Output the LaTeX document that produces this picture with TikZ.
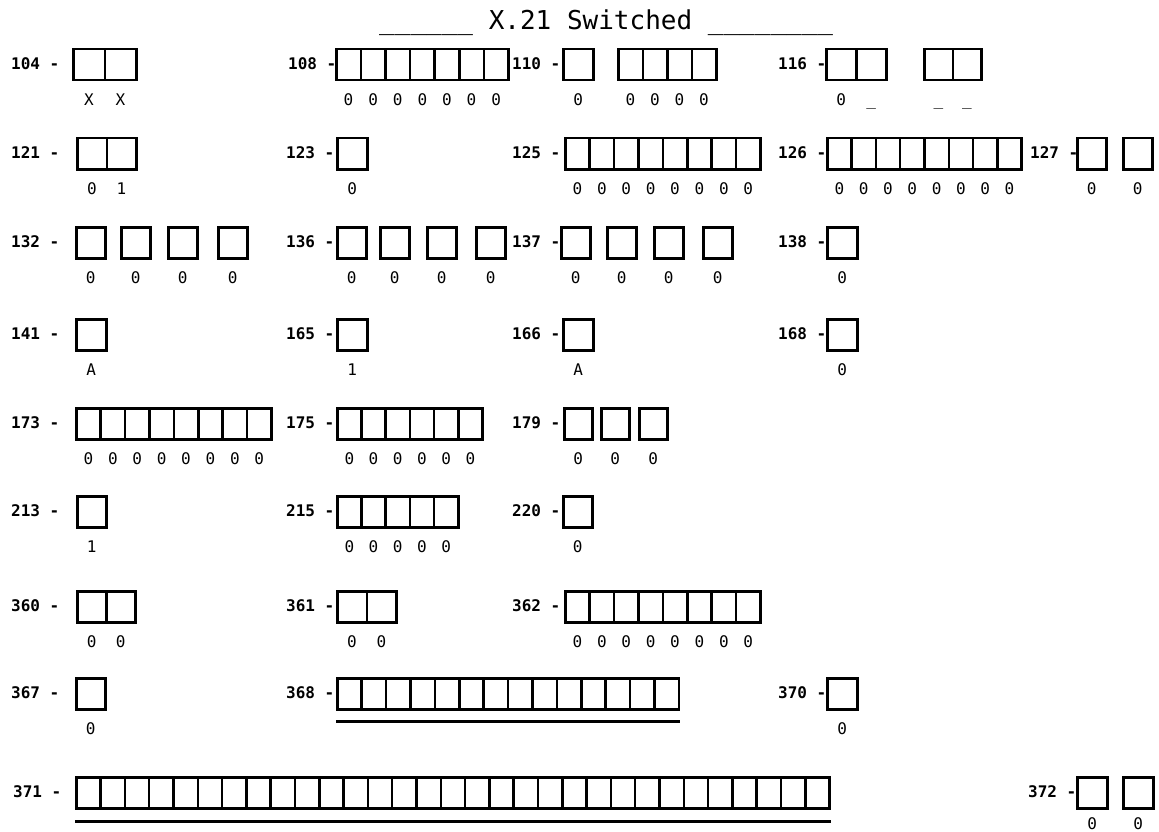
\documentclass[tikz,border=0pt]{standalone}
\usepackage{fontspec}
\newfontfamily\formfont{DejaVu Sans Mono}
\usepackage{tikz}
\usetikzlibrary{positioning, calc}

% one row of joined cells: name, left x, top y, number of cells, cell width
\newcommand{\fieldcells}[5]{%
  \foreach \k in {1,...,#4}{%
    \node[cellbox, minimum width=#5pt] (#1-\k) at ({#2+(\k-1)*#5},#3) {};
  }%
}
% the values printed under the cells of a field (optional: drop below the box)
\newcommand{\fieldvals}[3][24]{%
  \foreach \v [count=\k] in {#3}{%
    \node[val] (#2-v\k) at ([yshift=-#1pt]#2-\k.south) {\v};
  }%
}

\begin{document}
\begin{tikzpicture}[
  x=1pt, y=-1pt,
  cellbox/.style={draw, line width=2.5pt, inner sep=0pt,
    minimum height=31pt, anchor=north west},
  val/.style={font=\formfont\fontsize{16}{16}\selectfont,
    inner sep=0pt, anchor=base},
  fieldno/.style={font=\formfont\bfseries\fontsize{16}{16}\selectfont,
    inner sep=0pt, anchor=west},
  ttl/.style={font=\formfont\fontsize{26}{26}\selectfont,
    inner sep=0pt, anchor=base west},
  uline/.style={line width=2.5pt}
]
  \useasboundingbox (0,0) rectangle (1159,832);

  \node[ttl] (title) at (379,30) {\_\_\_\_\_\_ X.21 Switched \_\_\_\_\_\_\_\_};

  % row 1
  \node[fieldno] (l104) at (11,63.5) {104 -};
  \fieldcells{f104}{72}{48}{2}{31.5}  \fieldvals{f104}{X,X}
  \node[fieldno] (l108) at (288,63.5) {108 -};
  \fieldcells{f108}{335}{48}{7}{24.6} \fieldvals{f108}{0,0,0,0,0,0,0}
  \node[fieldno] (l110) at (512,63.5) {110 -};
  \fieldcells{f110a}{562}{48}{1}{30}  \fieldvals{f110a}{0}
  \fieldcells{f110b}{617}{48}{4}{24.5} \fieldvals{f110b}{0,0,0,0}
  \node[fieldno] (l116) at (778,63.5) {116 -};
  \fieldcells{f116a}{825}{48}{2}{30}  \fieldvals{f116a}{0,\_}
  \fieldcells{f116b}{923}{48}{2}{28.5} \fieldvals{f116b}{\_,\_}

  % row 2
  \node[fieldno] (l121) at (11,152.5) {121 -};
  \fieldcells{f121}{76}{137}{2}{29.5} \fieldvals{f121}{0,1}
  \node[fieldno] (l123) at (286,152.5) {123 -};
  \fieldcells{f123}{336}{137}{1}{30} \fieldvals{f123}{0}
  \node[fieldno] (l125) at (512,152.5) {125 -};
  \fieldcells{f125}{564}{137}{8}{24.4} \fieldvals{f125}{0,0,0,0,0,0,0,0}
  \node[fieldno] (l126) at (778,152.5) {126 -};
  \fieldcells{f126}{826}{137}{8}{24.3} \fieldvals{f126}{0,0,0,0,0,0,0,0}
  \node[fieldno] (l127) at (1030,152.5) {127 -};
  \fieldcells{f127a}{1076}{137}{1}{29} \fieldvals{f127a}{0}
  \fieldcells{f127b}{1122}{137}{1}{29} \fieldvals{f127b}{0}

  % row 3
  \node[fieldno] (l132) at (11,241.5) {132 -};
  \foreach \bx [count=\j] in {75,120,167,217}{
    \fieldcells{f132\j}{\bx}{226}{1}{29} \fieldvals{f132\j}{0}
  }
  \node[fieldno] (l136) at (286,241.5) {136 -};
  \foreach \bx [count=\j] in {336,379,426,475}{
    \fieldcells{f136\j}{\bx}{226}{1}{29} \fieldvals{f136\j}{0}
  }
  \node[fieldno] (l137) at (512,241.5) {137 -};
  \foreach \bx [count=\j] in {560,606,653,702}{
    \fieldcells{f137\j}{\bx}{226}{1}{29} \fieldvals{f137\j}{0}
  }
  \node[fieldno] (l138) at (778,241.5) {138 -};
  \fieldcells{f138}{826}{226}{1}{30} \fieldvals{f138}{0}

  % row 4
  \node[fieldno] (l141) at (11,333.5) {141 -};
  \fieldcells{f141}{75}{318}{1}{30} \fieldvals{f141}{A}
  \node[fieldno] (l165) at (286,333.5) {165 -};
  \fieldcells{f165}{336}{318}{1}{30} \fieldvals{f165}{1}
  \node[fieldno] (l166) at (512,333.5) {166 -};
  \fieldcells{f166}{562}{318}{1}{30} \fieldvals{f166}{A}
  \node[fieldno] (l168) at (778,333.5) {168 -};
  \fieldcells{f168}{826}{318}{1}{30} \fieldvals{f168}{0}

  % row 5
  \node[fieldno] (l173) at (11,422.5) {173 -};
  \fieldcells{f173}{75}{407}{8}{24.4} \fieldvals{f173}{0,0,0,0,0,0,0,0}
  \node[fieldno] (l175) at (286,422.5) {175 -};
  \fieldcells{f175}{336}{407}{6}{24.2} \fieldvals{f175}{0,0,0,0,0,0}
  \node[fieldno] (l179) at (512,422.5) {179 -};
  \foreach \bx [count=\j] in {563,600,638}{
    \fieldcells{f179\j}{\bx}{407}{1}{28} \fieldvals{f179\j}{0}
  }

  % row 6
  \node[fieldno] (l213) at (11,510.5) {213 -};
  \fieldcells{f213}{76}{495}{1}{29} \fieldvals{f213}{1}
  \node[fieldno] (l215) at (286,510.5) {215 -};
  \fieldcells{f215}{336}{495}{5}{24.2} \fieldvals{f215}{0,0,0,0,0}
  \node[fieldno] (l220) at (512,510.5) {220 -};
  \fieldcells{f220}{562}{495}{1}{29} \fieldvals{f220}{0}

  % row 7
  \node[fieldno] (l360) at (11,605.5) {360 -};
  \fieldcells{f360}{76}{590}{2}{29} \fieldvals{f360}{0,0}
  \node[fieldno] (l361) at (286,605.5) {361 -};
  \fieldcells{f361}{336}{590}{2}{29.5} \fieldvals{f361}{0,0}
  \node[fieldno] (l362) at (512,605.5) {362 -};
  \fieldcells{f362}{564}{590}{8}{24.4} \fieldvals{f362}{0,0,0,0,0,0,0,0}

  % row 8
  \node[fieldno] (l367) at (11,692.5) {367 -};
  \fieldcells{f367}{75}{677}{1}{29} \fieldvals{f367}{0}
  \node[fieldno] (l368) at (286,692.5) {368 -};
  \fieldcells{f368}{336}{677}{14}{24.4}
  \draw[uline] ([yshift=-11pt]f368-1.south west) -- ([yshift=-11pt]f368-14.south east);
  \node[fieldno] (l370) at (778,692.5) {370 -};
  \fieldcells{f370}{826}{677}{1}{30} \fieldvals{f370}{0}

  % row 9
  \node[fieldno] (l371) at (13,791.5) {371 -};
  \fieldcells{f371}{75}{776}{31}{24.3}
  \draw[uline] ([yshift=-12pt]f371-1.south west) -- ([yshift=-12pt]f371-31.south east);
  \node[fieldno] (l372) at (1028,791.5) {372 -};
  \fieldcells{f372a}{1076}{776}{1}{30} \fieldvals[20]{f372a}{0}
  \fieldcells{f372b}{1122}{776}{1}{30} \fieldvals[20]{f372b}{0}
\end{tikzpicture}
\end{document}
